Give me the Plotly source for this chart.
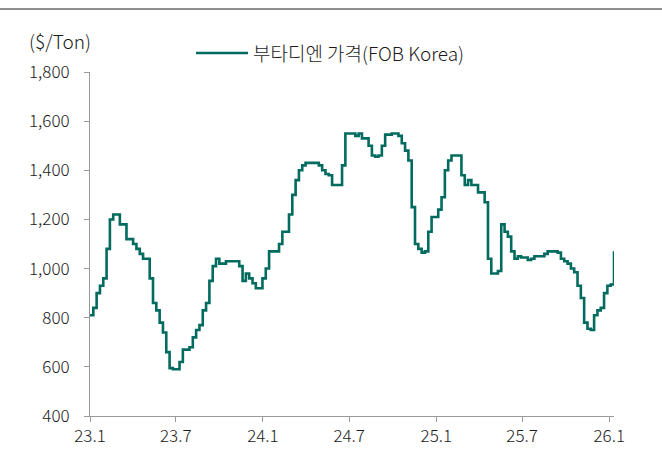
import pandas as pd
import plotly.graph_objects as go

# Weekly butadiene price, FOB Korea ($/Ton), Jan 2023 - Jan 2026
start_date = "2023-01-01"
price_2023 = [
    810, 840, 900, 930, 960, 1080, 1200, 1220, 1220, 1180, 1180, 1120, 1120,
    1100, 1080, 1060, 1040, 1040, 960, 860, 830, 780, 740, 660, 595, 590,
    590, 620, 670, 670, 680, 720, 750, 770, 830, 860, 950, 1010, 1040,
    1020, 1020, 1030, 1030, 1030, 1030, 1010, 950, 980, 960, 940, 920, 920,
]
price_2024 = [
    960, 1000, 1070, 1070, 1070, 1100, 1150, 1150, 1220, 1300, 1360, 1400, 1420,
    1430, 1430, 1430, 1430, 1420, 1400, 1385, 1380, 1340, 1340, 1340, 1420, 1550,
    1550, 1550, 1540, 1550, 1530, 1530, 1500, 1460, 1455, 1460, 1500, 1545, 1545,
    1550, 1550, 1540, 1510, 1480, 1440, 1250, 1100, 1080, 1065, 1070, 1150, 1210,
]
price_2025 = [
    1210, 1240, 1290, 1400, 1440, 1460, 1460, 1460, 1380, 1340, 1360, 1340, 1340,
    1310, 1310, 1270, 1040, 980, 980, 990, 1180, 1150, 1130, 1070, 1040, 1050,
    1045, 1045, 1035, 1040, 1050, 1050, 1050, 1060, 1070, 1070, 1070, 1065, 1040,
    1030, 1020, 1000, 985, 930, 880, 780, 755, 750, 810, 830, 840, 900,
]
price_2026 = [930, 935, 1070]

prices = price_2023 + price_2024 + price_2025 + price_2026
dates = pd.date_range(start_date, periods=len(prices), freq="7D")

tick_dates = ["2023-01-01", "2023-07-01", "2024-01-01", "2024-07-01",
              "2025-01-01", "2025-07-01", "2026-01-01"]
tick_labels = ["23.1", "23.7", "24.1", "24.7", "25.1", "25.7", "26.1"]
y_ticks = [400, 600, 800, 1000, 1200, 1400, 1600, 1800]

series_name = "부타디엔 가격(FOB Korea)"
unit_label = "($/Ton)"

LINE_COLOR = "#006B5E"
AXIS_COLOR = "#9a9a9a"
TEXT_COLOR = "#1a1a1a"
FONT = "Noto Sans CJK KR, Noto Sans, sans-serif"

# plot-area geometry in pixels, used to place the free-standing text
L, T, W, H = 90, 72, 524, 344


def px(x):
    return (x - L) / W


def py(y):
    return (T + H - y) / H


fig = go.Figure()
fig.add_trace(go.Scatter(
    x=dates, y=prices, mode="lines", name=series_name,
    line=dict(color=LINE_COLOR, width=2.6, shape="hv"),
    showlegend=False, cliponaxis=False,
))

axis_common = dict(
    ticks="outside", ticklen=5, tickcolor=AXIS_COLOR,
    showline=True, linecolor=AXIS_COLOR, linewidth=1,
    showgrid=False, zeroline=False, automargin=False,
    tickfont=dict(size=17, weight=300, color=TEXT_COLOR),
)

fig.update_layout(
    width=662, height=453,
    margin=dict(l=L, r=662 - L - W, t=T, b=453 - T - H, autoexpand=False),
    paper_bgcolor="white", plot_bgcolor="white",
    font=dict(family=FONT, size=17, color=TEXT_COLOR),
    xaxis=dict(
        type="date", range=["2023-01-01", "2026-01-11"],
        tickvals=tick_dates, ticktext=tick_labels,
        **axis_common,
    ),
    yaxis=dict(
        range=[400, 1800], tickvals=y_ticks,
        ticktext=[f"{v:,}" for v in y_ticks],
        ticklabelstandoff=11,
        **axis_common,
    ),
)

# top rule across the page
fig.add_shape(type="line", xref="paper", yref="paper",
              x0=px(0), x1=px(662), y0=py(9), y1=py(9),
              line=dict(color="#8f8f8f", width=2))

# legend sample and label
fig.add_shape(type="line", xref="paper", yref="paper",
              x0=px(196), x1=px(248), y0=py(53), y1=py(53),
              line=dict(color=LINE_COLOR, width=2.6))
fig.add_annotation(xref="paper", yref="paper", x=px(251), y=py(53),
                   text=series_name, showarrow=False,
                   xanchor="left", yanchor="middle",
                   font=dict(size=19, weight=300, color=TEXT_COLOR))

# unit label
fig.add_annotation(xref="paper", yref="paper", x=px(60), y=py(40),
                   text=unit_label, showarrow=False,
                   xanchor="center", yanchor="middle",
                   font=dict(size=19, weight=300, color=TEXT_COLOR))

fig.write_html("out.html")
